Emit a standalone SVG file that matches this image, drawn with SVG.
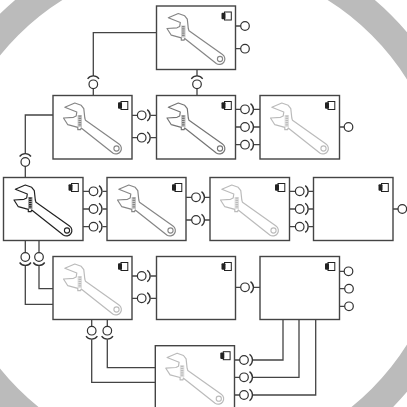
<svg xmlns="http://www.w3.org/2000/svg" width="407" height="407" viewBox="0 0 407 407">
<style>
.box{fill:#fff;stroke:#444;stroke-width:1.4}
.c{fill:none;stroke:#444;stroke-width:1.3}
.b{fill:#fff;stroke:#333;stroke-width:1.2}
.k{color:#222}.m{color:#868686}.d{color:#757575}.l{color:#bbb}
</style>
<defs>
<g id="w">
<path d="M11.8 11.8L21.8 7.5 28.2 9.8 30.8 13.2 31.8 22.5 32.5 24.8 66 48.5A5.2 5.2 0 0 1 59.8 57.5L28.2 32.5 27.5 34.2 24.8 34.2 24.8 31.8 14.8 29.2 10.5 22.5 20.5 21.8 23.2 20.5 23.8 16.5Z" fill="#fff" stroke="currentColor" stroke-width="1.2" stroke-linejoin="round"/>
<circle cx="63.5" cy="53" r="2.6" fill="#fff" stroke="currentColor" stroke-width="1.1"/>
<rect x="24.6" y="19.5" width="4.4" height="12" fill="currentColor" opacity=".45"/>
<line x1="26.8" y1="20" x2="26.8" y2="31" stroke="currentColor" stroke-width="2.6" stroke-dasharray="1.2 1"/>
</g>
<g id="i">
<rect x="68" y="6" width="6.8" height="8" fill="#fff" stroke="#222" stroke-width="1"/>
<rect x="65" y="6.8" width="4" height="6.4" rx="1" fill="#222"/>
</g>
<g id="r"><circle r="4.3" class="b"/><path d="M5.5-5.7A7 7 0 0 1 5.5 5.7" fill="none" stroke="#333" stroke-width="1.3"/></g>
<circle id="o" r="4.3" class="b"/>
</defs>
<circle cx="195" cy="212" r="264" fill="none" stroke="#bbb" stroke-width="28"/>
<g id="connectors">
<path class="c" d="M156.5 32.7H93.3V76M93.3 88V95.5M197 69.5V76M197 88V95.5M53 115H25.3V154M25.3 166V177.5"/>
<path class="c" d="M235.5 26H245M235.5 48.7H245M339.5 127H348.5M393 209H402"/>
<path class="c" d="M132 115.3H141M150.5 115.3H156.5M132 137.7H141M150.5 137.7H156.5M235.5 109.3H245M254 109.3H260M235.5 127H245M254 127H260M235.5 144.7H245M254 144.7H260"/>
<path class="c" d="M83 191.3H93M102.5 191.3H107M83 209H93M102.5 209H107M83 226.7H93M102.5 226.7H107M186 197.3H196M205 197.3H210M186 220H196M205 220H210M289.5 191.3H299.5M308.5 191.3H313.5M289.5 209H299.5M308.5 209H313.5M289.5 226.7H299.5M308.5 226.7H313.5"/>
<path class="c" d="M25.3 240.5V253M39 240.5V253M25.3 265.5V304.3H53M39 265.5V288.7H53"/>
<path class="c" d="M132 276H141M150.5 276H156.5M132 298.3H141M150.5 298.3H156.5M235.5 287.3H245M254 287.3H260M339.5 271.3H348.5M339.5 288.7H348.5M339.5 306.3H348.5"/>
<path class="c" d="M91.7 319.5V327M107.3 319.5V327M91.7 339.5V382.3H155.3M107.3 339.5V367.7H155.3"/>
<path class="c" d="M234.5 360H244M252.5 360H283V319.5M234.5 377.3H244M252.5 377.3H299V319.5M234.5 395H244M252.5 395H315.7V319.5"/>
<use href="#o" x="245" y="26"/><use href="#o" x="245" y="48.7"/><use href="#o" x="348.5" y="127"/><use href="#o" x="402.3" y="209"/>
<use href="#o" x="348.5" y="271.3"/><use href="#o" x="349" y="288.7"/><use href="#o" x="349" y="306.3"/>
<use href="#r" transform="translate(93.3 84.3) rotate(-90)"/><use href="#r" transform="translate(197 84.3) rotate(-90)"/><use href="#r" transform="translate(25.3 162) rotate(-90)"/>
<use href="#r" x="141.7" y="115.3"/><use href="#r" x="141.7" y="137.7"/>
<use href="#r" x="245" y="109.3"/><use href="#r" x="245" y="127"/><use href="#r" x="245" y="144.7"/>
<use href="#r" x="93.5" y="191.3"/><use href="#r" x="93.5" y="209"/><use href="#r" x="93.5" y="226.7"/>
<use href="#r" x="196" y="197.3"/><use href="#r" x="196" y="220"/>
<use href="#r" x="299.7" y="191.3"/><use href="#r" x="299.7" y="209"/><use href="#r" x="299.7" y="226.7"/>
<use href="#r" transform="translate(25.3 257) rotate(90)"/><use href="#r" transform="translate(39 257) rotate(90)"/>
<use href="#r" x="141.7" y="276"/><use href="#r" x="141.7" y="298.3"/><use href="#r" x="245" y="287.3"/>
<use href="#r" transform="translate(91.7 330.7) rotate(90)"/><use href="#r" transform="translate(107.3 330.7) rotate(90)"/>
<use href="#r" x="244" y="360"/><use href="#r" x="244" y="377.3"/><use href="#r" x="244" y="395"/>
</g>
<g id="n1" class="m" transform="translate(156.5 6)"><rect class="box" width="79" height="63.5"/><use href="#w"/><use href="#i"/></g>
<g id="n2" class="m" transform="translate(53 95.5)"><rect class="box" width="79" height="63.5"/><use href="#w"/><use href="#i"/></g>
<g id="n3" class="d" transform="translate(156.5 95.5)"><rect class="box" width="79" height="63.5"/><use href="#w"/><use href="#i"/></g>
<g id="n4" class="l" transform="translate(260 95.5)"><rect class="box" width="79.5" height="63.5"/><use href="#w"/><use href="#i"/></g>
<g id="n5" class="k" transform="translate(3.5 177.5)"><rect class="box" width="79.5" height="63"/><use href="#w"/><use href="#i"/></g>
<g id="n6" class="m" transform="translate(107 177.5)"><rect class="box" width="79" height="63"/><use href="#w"/><use href="#i"/></g>
<g id="n7" class="l" transform="translate(210 177.5)"><rect class="box" width="79.5" height="63"/><use href="#w"/><use href="#i"/></g>
<g id="n8" transform="translate(313.5 177.5)"><rect class="box" width="79.5" height="63"/><use href="#i"/></g>
<g id="n9" class="l" transform="translate(53 256.5)"><rect class="box" width="79" height="63"/><use href="#w"/><use href="#i"/></g>
<g id="n10" transform="translate(156.5 256.5)"><rect class="box" width="79" height="63"/><use href="#i"/></g>
<g id="n11" transform="translate(260 256.5)"><rect class="box" width="79.5" height="63"/><use href="#i"/></g>
<g id="n12" class="l" transform="translate(155.3 345.7)"><rect class="box" width="79.2" height="63.5"/><use href="#w"/><use href="#i"/></g>
</svg>
